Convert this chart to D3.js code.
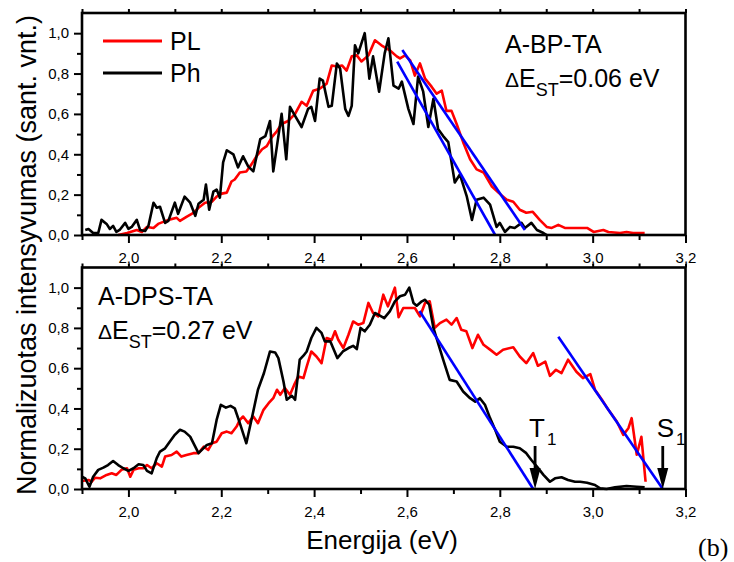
<!DOCTYPE html>
<html><head><meta charset="utf-8">
<script src="https://cdn.jsdelivr.net/npm/d3@7"></script>
<style>
body{margin:0;background:#fff}
svg{display:block}
text{font-family:"Liberation Sans",Arial,Helvetica,sans-serif;fill:#000}
</style>
</head><body>
<svg id="chart" width="734" height="562"></svg>
<script>
// ---------- data ----------
const xMajorTicks=[2.0,2.2,2.4,2.6,2.8,3.0,3.2];
const xMinorTicks=[1.9,2.1,2.3,2.5,2.7,2.9,3.1];
const xTopTicks=[1.9,2.0,2.1,2.2,2.3,2.4,2.5,2.6,2.7,2.8,2.9,3.0,3.1,3.2];
const yMajorTicks=[0,0.2,0.4,0.6,0.8,1.0];
const yMinorTicks=[0.1,0.3,0.5,0.7,0.9];
const seriesNames=["PL","Ph"];

// top panel (A-BP-TA): [energy eV, normalized intensity]
const topPL=[[1.978,0],[1.997,0.01],[2.018,0.025],[2.029,0.015],[2.040,0.04],[2.054,0.035],[2.064,0.055],[2.075,0.065],[2.086,0.075],[2.104,0.085],[2.111,0.07],[2.125,0.09],[2.140,0.11],[2.151,0.135],[2.165,0.16],[2.180,0.165],[2.190,0.19],[2.201,0.205],[2.212,0.21],[2.222,0.265],[2.229,0.275],[2.240,0.31],[2.254,0.315],[2.265,0.35],[2.276,0.39],[2.288,0.425],[2.298,0.44],[2.309,0.485],[2.320,0.515],[2.330,0.55],[2.344,0.565],[2.359,0.60],[2.373,0.66],[2.384,0.64],[2.398,0.715],[2.412,0.725],[2.427,0.75],[2.438,0.84],[2.449,0.835],[2.460,0.84],[2.470,0.815],[2.481,0.885],[2.492,0.89],[2.502,0.86],[2.517,0.89],[2.531,0.965],[2.545,0.94],[2.563,0.915],[2.578,0.885],[2.585,0.875],[2.596,0.89],[2.607,0.865],[2.617,0.79],[2.628,0.85],[2.639,0.775],[2.653,0.735],[2.664,0.70],[2.675,0.715],[2.685,0.615],[2.696,0.615],[2.707,0.55],[2.721,0.46],[2.736,0.375],[2.750,0.325],[2.765,0.31],[2.783,0.24],[2.797,0.21],[2.815,0.175],[2.829,0.165],[2.843,0.125],[2.857,0.11],[2.871,0.115],[2.886,0.075],[2.901,0.04],[2.912,0.035],[2.926,0.05],[2.940,0.035],[2.973,0.035],[2.988,0.035],[3.002,0.015],[3.023,0.025],[3.034,0.015],[3.059,0.01],[3.073,0.015],[3.087,0.01],[3.112,0.01]];
const topPh=[[1.907,0.025],[1.914,0.03],[1.924,0.01],[1.935,0.01],[1.942,0.075],[1.953,0.055],[1.960,0.03],[1.967,0.045],[1.974,0.015],[1.981,0.025],[1.993,0.06],[2.000,0.03],[2.007,0.04],[2.018,0.075],[2.025,0.025],[2.036,0.02],[2.043,0.045],[2.054,0.16],[2.061,0.135],[2.068,0.14],[2.079,0.06],[2.086,0.07],[2.100,0.16],[2.107,0.105],[2.121,0.19],[2.133,0.16],[2.144,0.095],[2.151,0.155],[2.162,0.175],[2.167,0.25],[2.174,0.125],[2.183,0.215],[2.190,0.225],[2.197,0.185],[2.204,0.36],[2.212,0.42],[2.226,0.40],[2.236,0.335],[2.247,0.39],[2.258,0.34],[2.269,0.315],[2.284,0.475],[2.295,0.49],[2.305,0.565],[2.312,0.315],[2.330,0.60],[2.340,0.375],[2.348,0.635],[2.359,0.59],[2.373,0.535],[2.387,0.625],[2.394,0.635],[2.402,0.565],[2.412,0.775],[2.419,0.765],[2.431,0.635],[2.438,0.64],[2.449,0.85],[2.456,0.825],[2.467,0.625],[2.474,0.59],[2.481,0.64],[2.488,0.94],[2.495,0.90],[2.509,1.0],[2.519,0.775],[2.527,0.885],[2.540,0.71],[2.552,0.90],[2.560,0.975],[2.571,0.74],[2.582,0.725],[2.589,0.76],[2.603,0.625],[2.614,0.55],[2.624,0.785],[2.635,0.71],[2.646,0.535],[2.657,0.675],[2.667,0.525],[2.678,0.49],[2.689,0.46],[2.703,0.26],[2.714,0.30],[2.729,0.19],[2.740,0.075],[2.750,0.175],[2.765,0.185],[2.779,0.15],[2.793,0.04],[2.800,0.06],[2.811,0.015],[2.822,0.04],[2.832,0.035],[2.847,0.06],[2.854,0.035],[2.868,0.06],[2.880,0.025],[2.894,0.01],[2.901,0]];

// bottom panel (A-DPS-TA)
const botPL=[[1.900,0.040],[1.914,0.045],[1.921,0.036],[1.928,0.056],[1.939,0.053],[1.953,0.070],[1.964,0.078],[1.974,0.070],[1.985,0.095],[1.997,0.103],[2.004,0.061],[2.011,0.095],[2.022,0.103],[2.032,0.103],[2.040,0.119],[2.050,0.103],[2.061,0.128],[2.072,0.111],[2.079,0.161],[2.093,0.169],[2.104,0.186],[2.114,0.161],[2.125,0.169],[2.140,0.178],[2.151,0.178],[2.162,0.210],[2.172,0.194],[2.180,0.227],[2.190,0.235],[2.201,0.277],[2.212,0.285],[2.222,0.277],[2.233,0.310],[2.240,0.343],[2.247,0.360],[2.258,0.327],[2.269,0.360],[2.279,0.327],[2.291,0.393],[2.302,0.426],[2.312,0.451],[2.320,0.493],[2.327,0.468],[2.337,0.501],[2.348,0.468],[2.357,0.517],[2.366,0.559],[2.377,0.551],[2.384,0.608],[2.394,0.683],[2.405,0.658],[2.416,0.625],[2.427,0.750],[2.438,0.741],[2.445,0.783],[2.452,0.741],[2.463,0.700],[2.474,0.766],[2.484,0.832],[2.495,0.816],[2.506,0.824],[2.517,0.924],[2.527,0.874],[2.538,0.857],[2.549,0.965],[2.559,0.907],[2.574,1.0],[2.582,0.853],[2.592,0.899],[2.607,0.899],[2.617,0.899],[2.628,0.857],[2.639,0.924],[2.649,0.932],[2.660,0.800],[2.671,0.824],[2.685,0.841],[2.696,0.816],[2.707,0.849],[2.717,0.791],[2.728,0.783],[2.741,0.700],[2.753,0.766],[2.765,0.716],[2.779,0.692],[2.793,0.667],[2.807,0.692],[2.829,0.704],[2.843,0.658],[2.857,0.625],[2.872,0.675],[2.882,0.612],[2.898,0.633],[2.908,0.562],[2.921,0.592],[2.933,0.576],[2.947,0.642],[2.965,0.582],[2.979,0.551],[2.995,0.571],[3.005,0.493],[3.020,0.443],[3.034,0.393],[3.052,0.335],[3.066,0.269],[3.077,0.302],[3.084,0.352],[3.095,0.17],[3.105,0.259],[3.114,0.036]];
const botPh=[[1.900,0.061],[1.907,0.053],[1.916,0.011],[1.924,0.061],[1.935,0.095],[1.946,0.106],[1.956,0.119],[1.967,0.139],[1.978,0.119],[1.989,0.103],[2.000,0.090],[2.011,0.103],[2.022,0.123],[2.032,0.119],[2.040,0.090],[2.050,0.078],[2.061,0.153],[2.068,0.186],[2.079,0.202],[2.089,0.235],[2.100,0.269],[2.111,0.294],[2.121,0.285],[2.133,0.260],[2.151,0.178],[2.169,0.219],[2.180,0.227],[2.190,0.343],[2.199,0.418],[2.210,0.404],[2.220,0.413],[2.229,0.401],[2.240,0.327],[2.254,0.227],[2.265,0.343],[2.279,0.493],[2.292,0.576],[2.305,0.683],[2.316,0.678],[2.323,0.650],[2.334,0.534],[2.341,0.443],[2.352,0.463],[2.359,0.443],[2.369,0.642],[2.377,0.662],[2.384,0.683],[2.394,0.750],[2.405,0.800],[2.416,0.775],[2.423,0.733],[2.435,0.733],[2.450,0.650],[2.462,0.683],[2.474,0.700],[2.484,0.711],[2.492,0.695],[2.500,0.800],[2.509,0.783],[2.520,0.816],[2.531,0.874],[2.538,0.866],[2.551,0.849],[2.563,0.882],[2.574,0.932],[2.585,0.957],[2.596,0.965],[2.605,1.0],[2.614,0.924],[2.621,0.910],[2.632,0.932],[2.639,0.940],[2.648,0.915],[2.657,0.800],[2.667,0.725],[2.678,0.642],[2.692,0.542],[2.707,0.534],[2.721,0.484],[2.736,0.451],[2.747,0.434],[2.757,0.451],[2.768,0.418],[2.779,0.352],[2.790,0.294],[2.800,0.235],[2.815,0.210],[2.829,0.210],[2.843,0.202],[2.857,0.178],[2.868,0.144],[2.880,0.111],[2.894,0.070],[2.908,0.036],[2.919,0.053],[2.933,0.058],[2.947,0.045],[2.962,0.036],[2.973,0.036],[2.988,0.031],[3.005,0.020],[3.016,0.003],[3.030,0],[3.048,0.008],[3.073,0.015],[3.095,0.011],[3.112,0.008]];

// linear onset fits (blue)
const topFits=[[[2.590,0.917],[2.854,0.025]],[[2.579,0.859],[2.790,0]]];
const botFits=[[[2.627,0.884],[2.872,0]],[[2.926,0.756],[3.151,0]]];
// arrow markers (energy of onset)
const markerLabels=["T","S"];
const markerEnergies=[2.876,3.151];

// ---------- drawing ----------
const svg=d3.select("#chart");
const x=d3.scaleLinear().domain([1.9,3.2]).range([82,685.5]);
const panels=[
  {y:d3.scaleLinear().domain([0,1.1]).range([235,13]),pl:topPL,ph:topPh,fits:topFits},
  {y:d3.scaleLinear().domain([0,1.1]).range([489,267.5]),pl:botPL,ph:botPh,fits:botFits}
];
const fmt=d=>d3.format(".1f")(d).replace(".",",");
const colors={PL:"#ff0000",Ph:"#000000",fit:"#0000ff"};

function styleAxis(g){
  g.select(".domain").remove();
  g.selectAll(".tick line").attr("stroke","#000").attr("stroke-width",2);
  g.selectAll(".tick text").style("font-size","15px").style("font-family",'"Liberation Sans",Arial,sans-serif');
}

panels.forEach(p=>{
  const y=p.y;
  const [y0,y1]=y.range();
  const g=svg.append("g");
  // axes
  g.append("g").attr("transform",`translate(0,${y0})`)
    .call(d3.axisBottom(x).tickValues(xMajorTicks).tickSize(8).tickPadding(9).tickFormat(fmt)).call(styleAxis);
  g.append("g").attr("transform",`translate(0,${y0})`)
    .call(d3.axisBottom(x).tickValues(xMinorTicks).tickSize(5).tickFormat("")).call(styleAxis);
  g.append("g").attr("transform",`translate(0,${y1})`)
    .call(d3.axisTop(x).tickValues(xTopTicks).tickSize(4).tickFormat("")).call(styleAxis);
  g.append("g").attr("transform",`translate(${x.range()[0]},0)`)
    .call(d3.axisLeft(y).tickValues(yMajorTicks).tickSize(8).tickPadding(5).tickFormat(fmt)).call(styleAxis);
  g.append("g").attr("transform",`translate(${x.range()[0]},0)`)
    .call(d3.axisLeft(y).tickValues(yMinorTicks).tickSize(5).tickFormat("")).call(styleAxis);

  const line=d3.line().x(d=>x(d[0])).y(d=>y(d[1]));
  g.append("path").datum(p.pl).attr("d",line).attr("fill","none")
    .attr("stroke",colors.PL).attr("stroke-width",2.6).attr("stroke-linejoin","round");
  g.append("path").datum(p.ph).attr("d",line).attr("fill","none")
    .attr("stroke",colors.Ph).attr("stroke-width",2.6).attr("stroke-linejoin","round");
  p.fits.forEach(f=>{
    g.append("path").datum(f).attr("d",line).attr("fill","none")
      .attr("stroke",colors.fit).attr("stroke-width",2.6);
  });
  // frame
  g.append("rect").attr("x",x.range()[0]).attr("y",y1)
    .attr("width",x.range()[1]-x.range()[0]).attr("height",y0-y1)
    .attr("fill","none").attr("stroke","#000").attr("stroke-width",2.6);
});

// legend (top panel)
const legend=svg.append("g");
seriesNames.forEach((n,i)=>{
  const yy=41+i*32;
  legend.append("line").attr("x1",103).attr("x2",162).attr("y1",yy).attr("y2",yy)
    .attr("stroke",colors[n]).attr("stroke-width",2.8);
  legend.append("text").attr("x",170).attr("y",yy+9).style("font-size","25px").text(n);
});

// panel annotations
function annot(xp,yTitle,title,val){
  svg.append("text").attr("x",xp).attr("y",yTitle).style("font-size","25px").text(title);
  const t=svg.append("text").attr("x",xp).attr("y",yTitle+34).style("font-size","25px");
  t.append("tspan").style("font-size","21px").text("Δ");
  t.append("tspan").text("E");
  t.append("tspan").attr("dy",9).style("font-size","18px").text("ST");
  t.append("tspan").attr("dy",-9).text("="+val+" eV");
}
annot(505,53,"A-BP-TA","0.06");
annot(98,305,"A-DPS-TA","0.27");

// arrows T1, S1
const yb=panels[1].y;
markerEnergies.forEach((e,i)=>{
  const xp=x(e);
  svg.append("line").attr("x1",xp).attr("x2",xp).attr("y1",yb(0)-43).attr("y2",yb(0)-18)
    .attr("stroke","#000").attr("stroke-width",2.8);
  svg.append("path").attr("d",`M${xp-5.5},${yb(0)-21}L${xp+5.5},${yb(0)-21}L${xp},${yb(0)}Z`).attr("fill","#000");
  const t=svg.append("text").attr("x",xp-6).attr("y",yb(0)-52).style("font-size","26px");
  t.append("tspan").text(markerLabels[i]);
  t.append("tspan").attr("dy",8).attr("dx",2).style("font-size","17px").text("1");
});

// axis titles
svg.append("text").attr("transform","translate(36,255) rotate(-90)").attr("text-anchor","middle")
  .style("font-size","27px").text("Normalizuotas intensyvumas (sant. vnt.)");
svg.append("text").attr("x",382).attr("y",549).attr("text-anchor","middle")
  .style("font-size","26px").text("Energija (eV)");
svg.append("text").attr("x",698).attr("y",556)
  .style("font-family",'"Liberation Serif","Times New Roman",serif').style("font-size","26px").text("(b)");
</script>
</body></html>
